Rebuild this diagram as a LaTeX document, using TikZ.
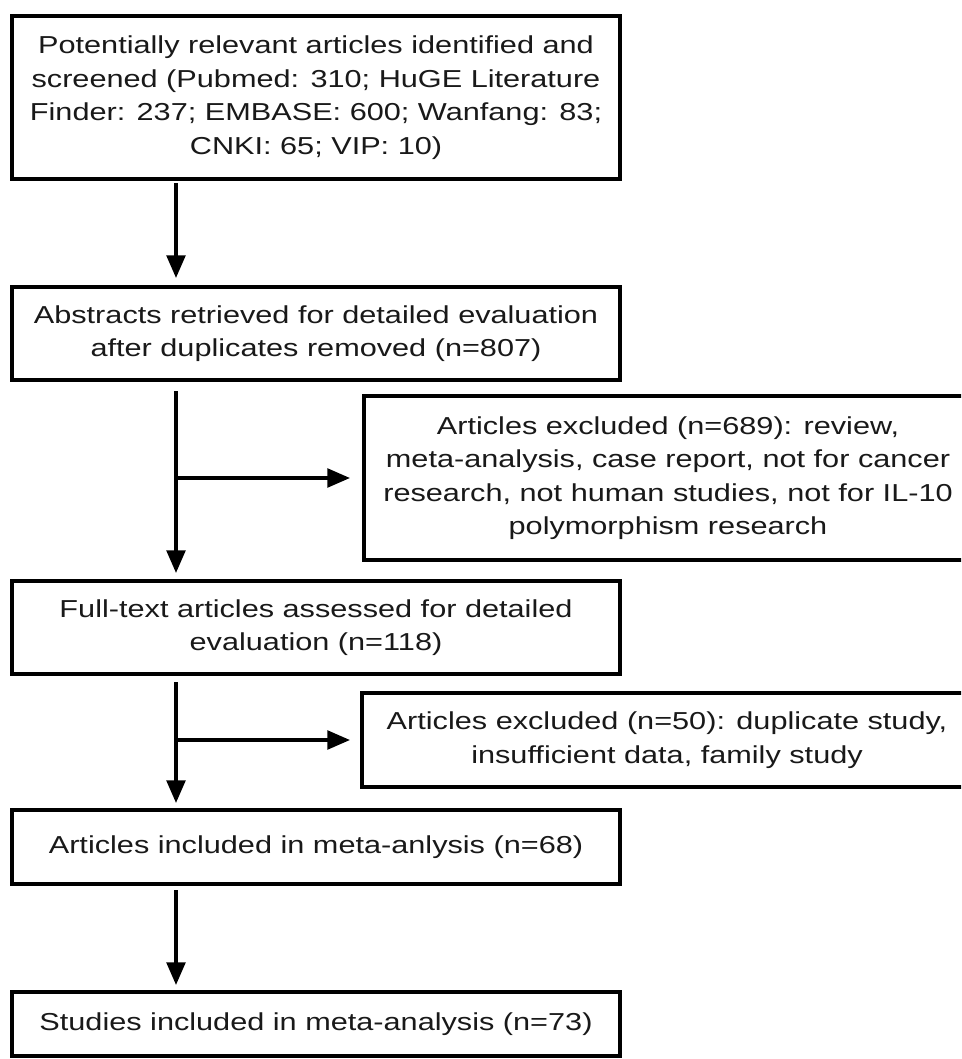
\documentclass[tikz,border=0pt]{standalone}
\usepackage{graphicx}
\usepackage{fontspec}
\setmainfont{Liberation Sans}
\usetikzlibrary{arrows.meta}
\newcommand{\sx}[1]{\scalebox{1.25}[1]{#1}}
\begin{document}
\begin{tikzpicture}[x=0.75pt,y=-0.75pt,
  box/.style={draw=black, line width=3pt, rectangle, inner sep=0pt, outer sep=0pt,
    align=center, minimum width=456pt, text=black!90,
    font=\fontsize{18.4pt}{25.1pt}\selectfont},
  arr/.style={draw=black, line width=2.6pt, -{Triangle[length=17pt,width=14pt]}}
  ]
\useasboundingbox (0,0) rectangle (961,1059);
\clip (0,0) rectangle (961,1059);
\fill[white] (0,0) rectangle (961,1059);

\node[box, minimum height=122.25pt] (b1) at (316,97.5)
  {\sx{Potentially relevant articles identified and}\\
   \sx{screened (Pubmed: 310; HuGE Literature}\\
   \sx{Finder: 237; EMBASE: 600; Wanfang: 83;}\\
   \sx{CNKI: 65; VIP: 10)}};
\node[box, minimum height=69.75pt] (b2) at (316,333.5)
  {\sx{Abstracts retrieved for detailed evaluation}\\
   \sx{after duplicates removed (n=807)}};
\node[box, minimum height=123pt] (e1) at (668,478)
  {\sx{Articles excluded (n=689): review,}\\
   \sx{meta-analysis, case report, not for cancer}\\
   \sx{research, not human studies, not for IL-10}\\
   \sx{polymorphism research}};
\node[box, minimum height=69.75pt] (b3) at (316,627.5)
  {\sx{Full-text articles assessed for detailed}\\
   \sx{evaluation (n=118)}};
\node[box, minimum width=457.5pt, minimum height=70.5pt] (e2) at (667,740)
  {\sx{Articles excluded (n=50): duplicate study,}\\
   \sx{insufficient data, family study}};
\node[box, minimum height=55.5pt] (b4) at (316,847)
  {\sx{Articles included in meta-anlysis (n=68)}};
\node[box, minimum height=48pt] (b5) at (316,1024)
  {\sx{Studies included in meta-analysis (n=73)}};

\coordinate (sp) at (176,0);
\coordinate (br1) at (176,478);
\coordinate (br2) at (176,740);

\draw[arr, shorten <=3pt, shorten >=6.75pt] (b1.south -| sp) -- (b2.north -| sp);
\draw[arr, shorten <=8.25pt, shorten >=6pt] (b2.south -| sp) -- (b3.north -| sp);
\draw[arr, shorten >=10.5pt] (br1) -- (e1.west);
\draw[arr, shorten <=6pt, shorten >=5.25pt] (b3.south -| sp) -- (b4.north -| sp);
\draw[arr, shorten >=9pt] (br2) -- (e2.west);
\draw[arr, shorten <=4.5pt, shorten >=5.25pt] (b4.south -| sp) -- (b5.north -| sp);
\end{tikzpicture}
\end{document}
